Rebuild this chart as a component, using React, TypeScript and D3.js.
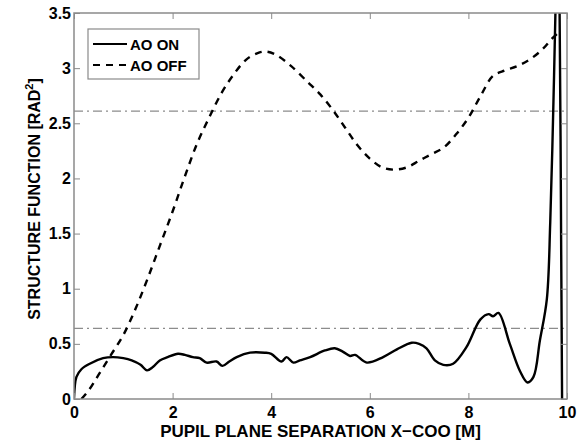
import { useEffect, useRef } from 'react'
import * as d3 from 'd3'

// AO OFF (dashed) structure function, [x (m), D (rad^2)]
const offX = [0.15, 0.3, 0.5, 0.75, 1.0, 1.25, 1.5, 1.75, 2.0, 2.25, 2.5, 2.75, 3.0, 3.25, 3.5, 3.75, 3.9, 4.1, 4.4, 4.75, 5.0, 5.25, 5.5, 5.75, 6.0, 6.25, 6.5, 6.75, 7.0, 7.25, 7.5, 7.75, 8.0, 8.25, 8.5, 8.75, 9.0, 9.25, 9.5, 9.7, 9.82]
const offY = [0.0, 0.08, 0.22, 0.4, 0.58, 0.82, 1.1, 1.4, 1.7, 2.02, 2.32, 2.56, 2.78, 2.95, 3.08, 3.14, 3.15, 3.12, 3.02, 2.87, 2.76, 2.62, 2.46, 2.3, 2.18, 2.1, 2.08, 2.1, 2.16, 2.22, 2.28, 2.4, 2.55, 2.75, 2.93, 2.98, 3.02, 3.08, 3.17, 3.27, 3.32]

// AO ON (solid)
const onX = [0.0, 0.05, 0.15, 0.32, 0.59, 0.79, 1.0, 1.17, 1.35, 1.48, 1.6, 1.74, 1.9, 2.11, 2.25, 2.41, 2.55, 2.69, 2.89, 3.01, 3.15, 3.3, 3.57, 3.87, 4.0, 4.21, 4.31, 4.45, 4.58, 4.79, 5.09, 5.29, 5.45, 5.6, 5.7, 5.94, 6.27, 6.55, 6.85, 7.0, 7.15, 7.32, 7.49, 7.69, 7.96, 8.24, 8.41, 8.5, 8.61, 8.84, 9.05, 9.2, 9.32, 9.45, 9.59, 9.66, 9.72, 9.77, 9.81, 9.85, 9.88, 9.9]
const onY = [0.0, 0.2, 0.27, 0.32, 0.37, 0.38, 0.37, 0.35, 0.31, 0.26, 0.29, 0.35, 0.38, 0.41, 0.4, 0.38, 0.37, 0.33, 0.34, 0.3, 0.34, 0.38, 0.42, 0.42, 0.41, 0.34, 0.38, 0.33, 0.35, 0.38, 0.44, 0.46, 0.43, 0.39, 0.4, 0.33, 0.38, 0.45, 0.51, 0.5, 0.46, 0.35, 0.31, 0.32, 0.47, 0.72, 0.77, 0.75, 0.78, 0.5, 0.25, 0.15, 0.2, 0.53, 0.9, 1.6, 2.6, 3.6, 4.5, 3.5, 1.5, 0.0]

const refLevels = [2.61, 0.64]
const xTicks = [0, 2, 4, 6, 8, 10]
const yTicks = [0, 0.5, 1, 1.5, 2, 2.5, 3, 3.5]

const legendItems = [
  { label: 'AO ON', dash: null },
  { label: 'AO OFF', dash: '7,6' },
]

const FONT = '"Liberation Sans", Arial, Helvetica, sans-serif'

export default function App() {
  const svgRef = useRef<SVGSVGElement>(null)

  useEffect(() => {
    const W = 585, H = 442
    const m = { top: 13, right: 18, bottom: 43, left: 74 }
    const w = W - m.left - m.right
    const h = H - m.top - m.bottom

    const svg = d3.select(svgRef.current)
    svg.selectAll('*').remove()
    svg.attr('width', W).attr('height', H)

    svg.append('defs').append('clipPath').attr('id', 'plotclip')
      .append('rect').attr('width', w).attr('height', h)

    const g = svg.append('g').attr('transform', `translate(${m.left},${m.top})`)

    const x = d3.scaleLinear().domain([0, 10]).range([0, w])
    const y = d3.scaleLinear().domain([0, 3.5]).range([h, 0])

    const frame = '#8a8a8a'

    // reference dash-dot lines
    g.selectAll('.ref')
      .data(refLevels)
      .enter().append('line')
      .attr('x1', 0).attr('x2', w)
      .attr('y1', d => y(d)).attr('y2', d => y(d))
      .attr('stroke', '#8c8c8c').attr('stroke-width', 1.3)
      .attr('stroke-dasharray', '9,4,2,4')

    const line = d3.line<[number, number]>()
      .x(d => x(d[0])).y(d => y(d[1]))
      .curve(d3.curveCatmullRom.alpha(0.5))

    const plot = g.append('g').attr('clip-path', 'url(#plotclip)')

    plot.append('path')
      .datum(offX.map((v, i) => [v, offY[i]] as [number, number]))
      .attr('d', line)
      .attr('fill', 'none').attr('stroke', '#000').attr('stroke-width', 2.4)
      .attr('stroke-dasharray', '7,6')

    plot.append('path')
      .datum(onX.map((v, i) => [v, onY[i]] as [number, number]))
      .attr('d', line)
      .attr('fill', 'none').attr('stroke', '#000').attr('stroke-width', 2.4)
      .attr('stroke-linejoin', 'round')

    // frame
    g.append('rect').attr('width', w).attr('height', h)
      .attr('fill', 'none').attr('stroke', frame).attr('stroke-width', 1.5)

    // axes with inward ticks
    const tickLen = 6
    const styleAxis = (ax: any) => {
      ax.select('.domain').remove()
      ax.selectAll('line').attr('stroke', frame).attr('stroke-width', 1)
      ax.selectAll('text').attr('fill', '#000').attr('font-family', FONT)
        .attr('font-size', '16px').attr('font-weight', 'bold')
    }

    g.append('g').attr('transform', `translate(0,${h})`)
      .call(d3.axisBottom(x).tickValues(xTicks).tickSize(-tickLen).tickPadding(8).tickFormat(d3.format('d')))
      .call(styleAxis)
    g.append('g')
      .call(d3.axisTop(x).tickValues(xTicks).tickSize(-tickLen).tickFormat(() => ''))
      .call(styleAxis)
    g.append('g')
      .call(d3.axisLeft(y).tickValues(yTicks).tickSize(-tickLen).tickPadding(3).tickFormat(d => String(d)))
      .call(styleAxis)
    g.append('g').attr('transform', `translate(${w},0)`)
      .call(d3.axisRight(y).tickValues(yTicks).tickSize(-tickLen).tickFormat(() => ''))
      .call(styleAxis)

    // axis titles
    svg.append('text')
      .attr('x', m.left + w / 2).attr('y', 437)
      .attr('text-anchor', 'middle')
      .attr('font-family', FONT).attr('font-size', '17px').attr('font-weight', 'bold')
      .text('PUPIL PLANE SEPARATION X\u2212COO [M]')

    const yt = svg.append('text')
      .attr('transform', `translate(40,199) rotate(-90)`)
      .attr('text-anchor', 'middle')
      .attr('font-family', FONT).attr('font-size', '16px').attr('font-weight', 'bold')
    yt.append('tspan').text('STRUCTURE FUNCTION [RAD')
    yt.append('tspan').attr('dy', -7).attr('font-size', '11px').text('2')
    yt.append('tspan').attr('dy', 7).text(']')

    // legend
    const lg = svg.append('g').attr('transform', 'translate(88,29)')
    lg.append('rect').attr('width', 111).attr('height', 50)
      .attr('fill', '#fff').attr('stroke', frame).attr('stroke-width', 1.2)
    legendItems.forEach((it, i) => {
      const cy = 15 + i * 21
      const ln = lg.append('line').attr('x1', 5).attr('x2', 39).attr('y1', cy).attr('y2', cy)
        .attr('stroke', '#000').attr('stroke-width', 2.2)
      if (it.dash) ln.attr('stroke-dasharray', it.dash)
      lg.append('text').attr('x', 42).attr('y', cy + 6)
        .attr('font-family', FONT).attr('font-size', '15px').attr('font-weight', 'bold')
        .text(it.label)
    })
  }, [])

  return (
    <svg ref={svgRef} style={{ position: 'absolute', left: 0, top: 0, display: 'block', background: '#fff' }} />
  )
}
